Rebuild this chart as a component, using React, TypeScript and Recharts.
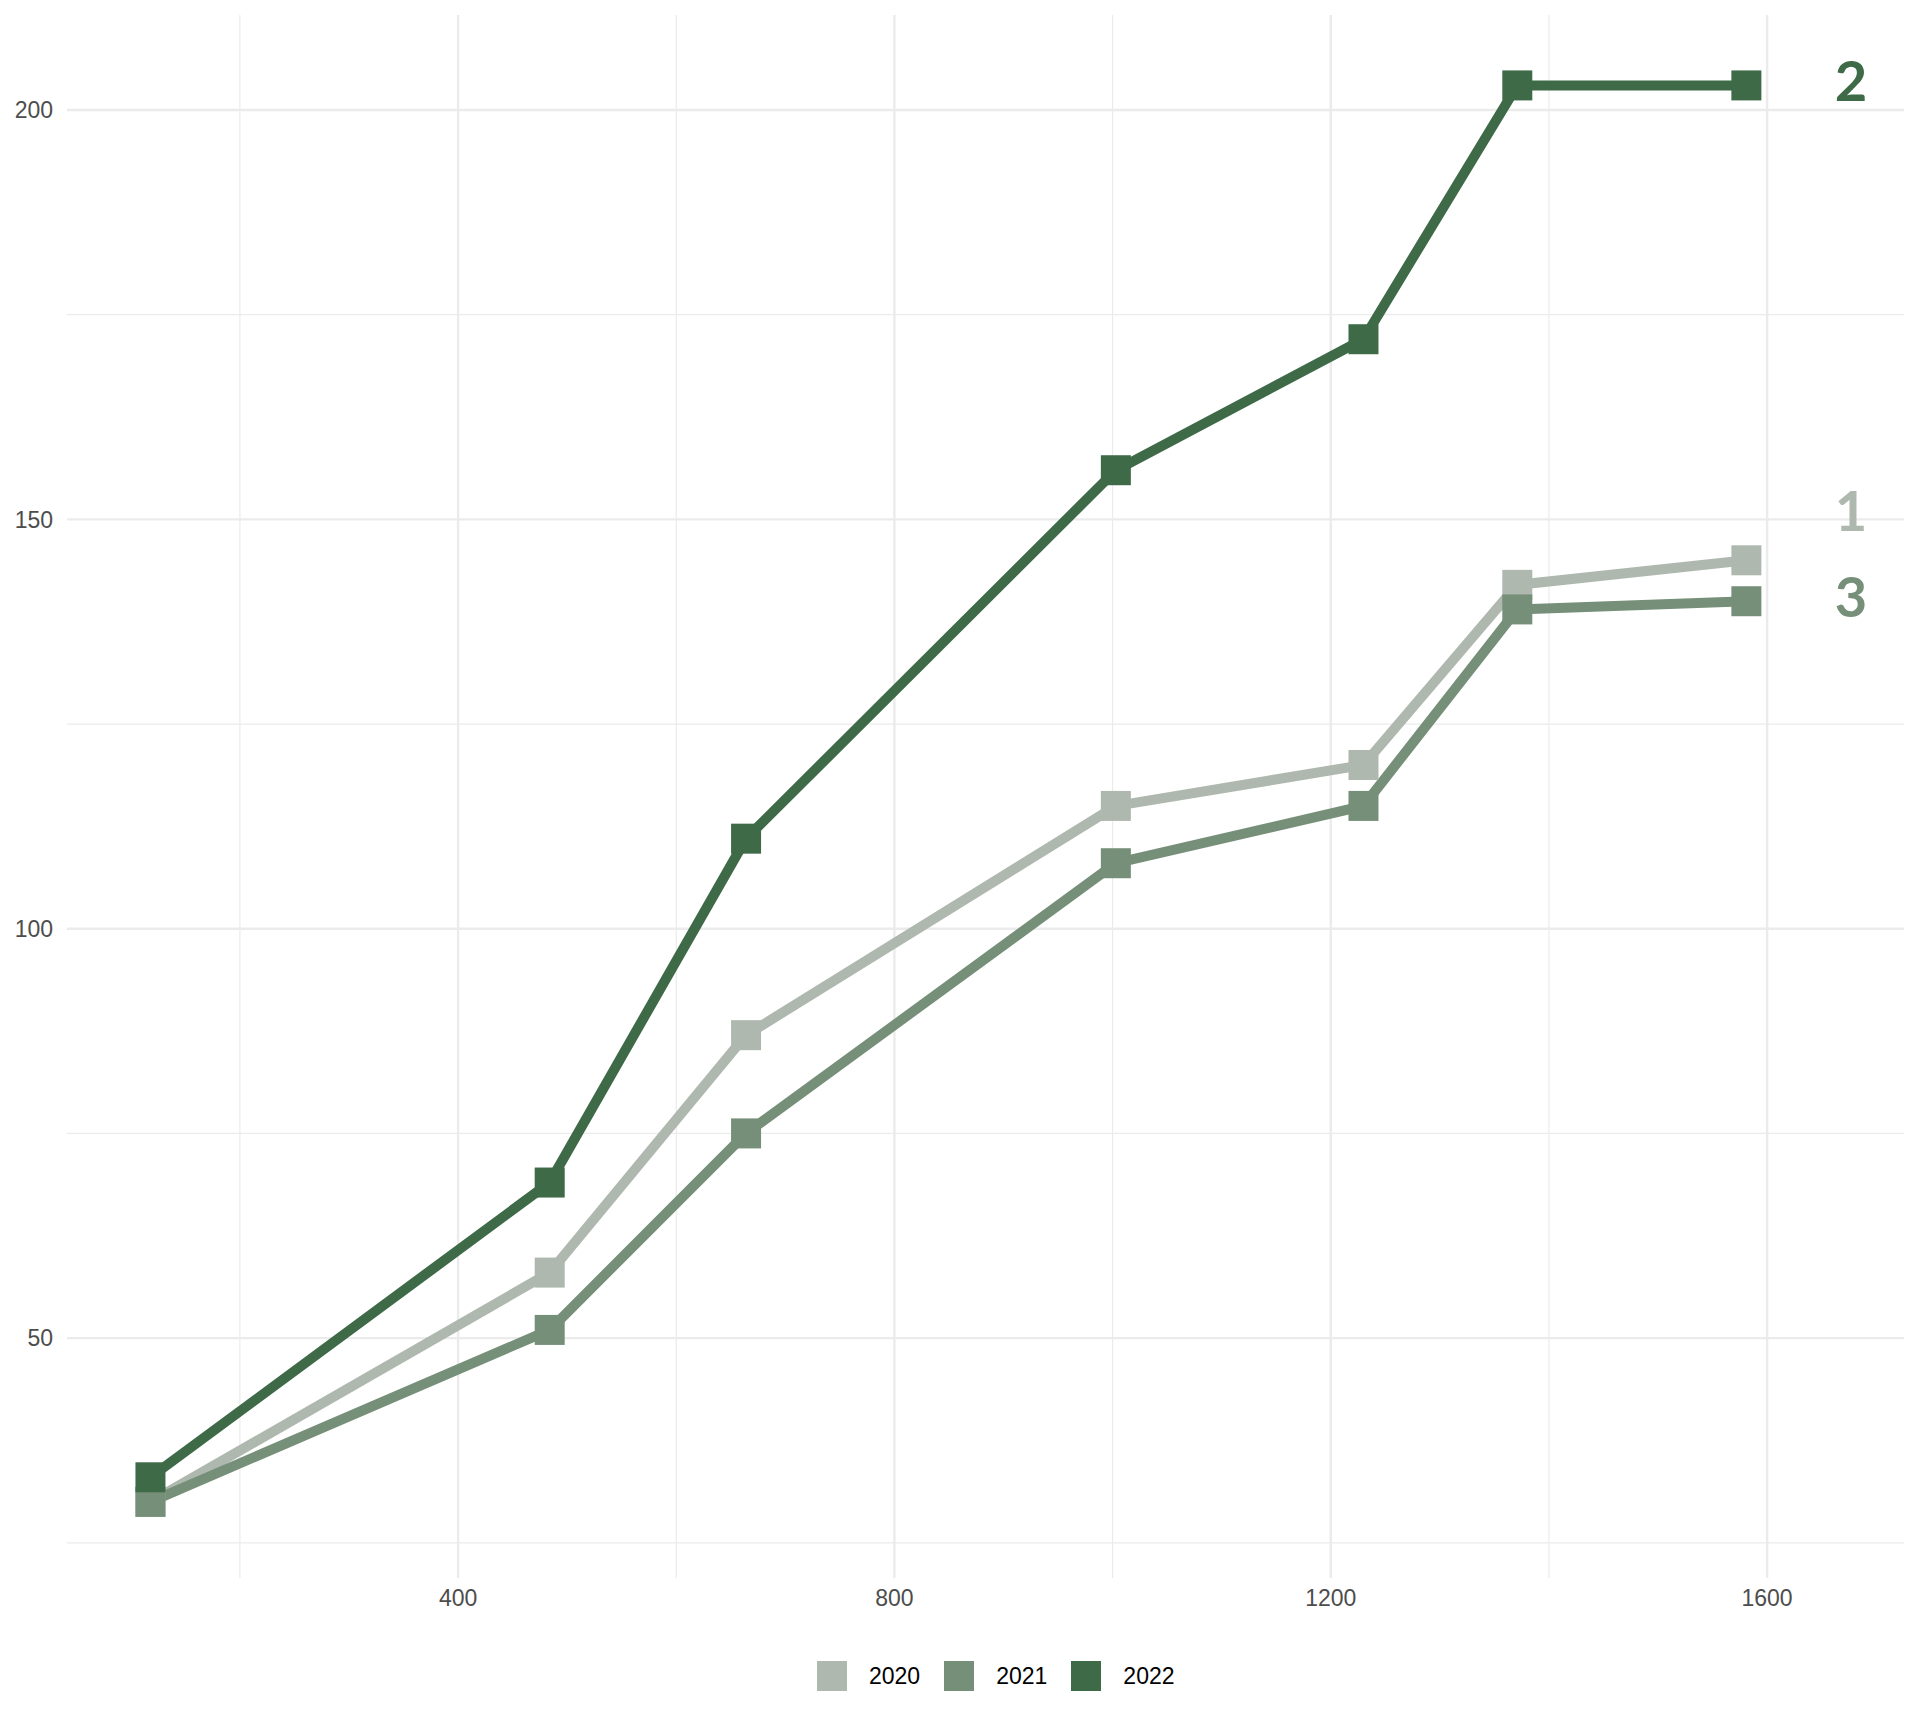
import React from "react";
import {
  ComposedChart,
  Line,
  Scatter,
  XAxis,
  YAxis,
  CartesianGrid,
  Legend,
} from "recharts";

// x positions shared by all three years
const positions = [118, 484, 664, 1003, 1230, 1371, 1581];
const values2020 = [30, 58, 87, 115, 120, 142, 145];
const values2021 = [30, 51, 75, 108, 115, 139, 140];
const values2022 = [33, 69, 111, 156, 172, 203, 203];

const seriesNames = ["2020", "2021", "2022"];
const seriesValues = [values2020, values2021, values2022];
const seriesColors = ["#afb8af", "#768f79", "#3e6a47"];

// rank labels at the right end of each line
const endLabels = ["1", "3", "2"];
const endLabelX = 1677;
const endLabelY = [151, 140.5, 203.5];

// minor ticks get blank labels, majors are printed
const xTicks = [200, 400, 600, 800, 1000, 1200, 1400, 1600];
const yTicks = [25, 50, 75, 100, 125, 150, 175, 200];
const xMajor = [400, 800, 1200, 1600];
const yMajor = [50, 100, 150, 200];

const GRID = "#ebebeb";
const TICK_FONT = "'Liberation Sans', Arial, sans-serif";

const lineRows = (i: number) =>
  positions.map((x, j) => ({ x, y: seriesValues[i][j] }));

const labelRows = endLabels.map((label, i) => ({
  x: endLabelX,
  y: endLabelY[i],
  label,
  series: i,
}));

// even index = minor grid line (ticks alternate minor/major)
const gridLine = (props: any) => {
  const minor = props.index % 2 === 0;
  return (
    <line
      key={props.key}
      x1={props.x1}
      y1={props.y1}
      x2={props.x2}
      y2={props.y2}
      stroke={GRID}
      strokeWidth={minor ? 1.2 : 2.4}
    />
  );
};

const squareDot = (color: string) => (props: any) => {
  const { cx, cy, index } = props;
  if (cx == null || cy == null) return <g key={`d-${index}`} />;
  return (
    <rect
      key={`d-${index}`}
      x={cx - 15}
      y={cy - 15}
      width={30}
      height={30}
      fill={color}
    />
  );
};

const EndLabel = (props: any) => {
  const { cx, cy, payload } = props;
  return (
    <text
      x={cx}
      y={cy}
      dy="0.36em"
      textAnchor="middle"
      fontFamily="Lato, 'Open Sans', sans-serif"
      fontWeight={700}
      fontSize={56}
      fill={seriesColors[payload.series]}
    >
      {payload.label}
    </text>
  );
};

const LegendBox = () => (
  <div
    style={{
      height: 40,
      display: "flex",
      alignItems: "center",
      paddingLeft: 817,
      boxSizing: "border-box",
      fontFamily: TICK_FONT,
      fontSize: 23,
      color: "#000",
    }}
  >
    {seriesNames.map((name, i) => (
      <div key={name} style={{ display: "flex", alignItems: "center", marginRight: 24 }}>
        <div style={{ width: 30, height: 30, background: seriesColors[i], marginRight: 22 }} />
        <span>{name}</span>
      </div>
    ))}
  </div>
);

export default function App() {
  return (
    <div style={{ position: "absolute", left: 0, top: 0, background: "#fff" }}>
      <ComposedChart
        width={1920}
        height={1728}
        margin={{ top: 15, right: 16, left: 0, bottom: 32 }}
      >
        <CartesianGrid
          stroke={GRID}
          syncWithTicks
          horizontal={gridLine}
          vertical={gridLine}
        />
        <XAxis
          type="number"
          dataKey="x"
          domain={[41.5, 1725.5]}
          allowDataOverflow
          ticks={xTicks}
          interval={0}
          tickFormatter={(v: number) => (xMajor.includes(v) ? String(v) : "")}
          axisLine={false}
          tickLine={false}
          tickSize={0}
          tickMargin={12}
          height={78}
          tick={{ fill: "#4d4d4d", fontSize: 23, fontFamily: TICK_FONT }}
        />
        <YAxis
          type="number"
          domain={[20.7, 211.6]}
          allowDataOverflow
          ticks={yTicks}
          interval={0}
          tickFormatter={(v: number) => (yMajor.includes(v) ? String(v) : "")}
          axisLine={false}
          tickLine={false}
          tickSize={0}
          tickMargin={14}
          width={67}
          tick={{ fill: "#4d4d4d", fontSize: 23, fontFamily: TICK_FONT }}
        />
        {seriesNames.map((name, i) => (
          <Line
            key={name}
            name={name}
            data={lineRows(i)}
            dataKey="y"
            type="linear"
            stroke={seriesColors[i]}
            strokeWidth={10}
            dot={squareDot(seriesColors[i])}
            activeDot={false}
            isAnimationActive={false}
          />
        ))}
        <Scatter
          data={labelRows}
          dataKey="y"
          shape={EndLabel}
          legendType="none"
          isAnimationActive={false}
        />
        <Legend verticalAlign="bottom" content={() => <LegendBox />} />
      </ComposedChart>
    </div>
  );
}
